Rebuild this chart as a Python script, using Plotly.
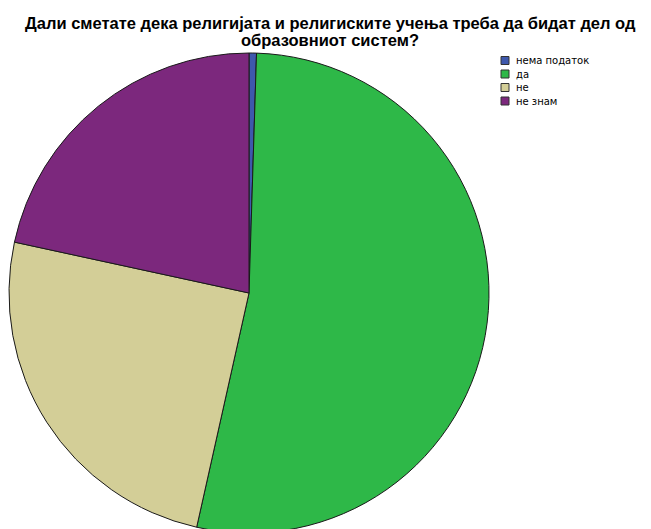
import plotly.graph_objects as go

# -------------------------------------------------
# DATA
# -------------------------------------------------

answers = ["нема податок", "да", "не", "не знам"]
shares = [0.5, 53.0, 24.9, 21.6]
colors = ["#3E58AC", "#2EB848", "#D3CE97", "#7C287D"]

title_lines = [
    "Дали сметате дека религијата и религиските учења треба да бидат дел од",
    "образовниот систем?",
]

W = 651
H = 540


def px_x(x):
    return x / W


def px_y(y):
    return 1 - y / H


# -------------------------------------------------
# PIE CHART
# -------------------------------------------------

fig = go.Figure(
    go.Pie(
        labels=answers,
        values=shares,
        sort=False,
        direction="clockwise",
        rotation=0,
        textinfo="none",
        hoverinfo="label+percent",
        showlegend=False,
        marker=dict(colors=colors, line=dict(color="#1a1a1a", width=1)),
        domain=dict(x=[px_x(1), px_x(481)], y=[px_y(525), px_y(45)]),
    )
)

# title, two lines with tight spacing
for i, line in enumerate(title_lines):
    fig.add_annotation(
        text="<b>" + line + "</b>",
        xref="paper",
        yref="paper",
        x=px_x(322),
        y=px_y(15.5 + 16 * i),
        xanchor="center",
        yanchor="middle",
        showarrow=False,
        font=dict(family="Liberation Sans, Arial", size=16.5, color="black"),
    )

# legend drawn by hand to get the compact look
for i, (name, col) in enumerate(zip(answers, colors)):
    cy = 52.5 + 13.5 * i
    fig.add_shape(
        type="rect",
        xref="paper",
        yref="paper",
        x0=px_x(493),
        x1=px_x(501),
        y0=px_y(cy - 4),
        y1=px_y(cy + 4),
        fillcolor=col,
        line=dict(color="#333333", width=1),
    )
    fig.add_annotation(
        text=name,
        xref="paper",
        yref="paper",
        x=px_x(506),
        y=px_y(cy),
        xanchor="left",
        yanchor="middle",
        showarrow=False,
        font=dict(family="DejaVu Sans", size=10, color="black"),
    )

fig.update_layout(
    width=W,
    height=H,
    margin=dict(l=0, r=0, t=0, b=0),
    paper_bgcolor="white",
    plot_bgcolor="white",
)

fig.write_html("out.html")
